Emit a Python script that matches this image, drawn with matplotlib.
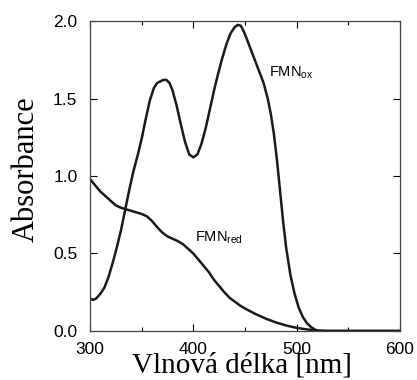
import matplotlib
matplotlib.use("Agg")
import matplotlib.pyplot as plt
from matplotlib.ticker import MultipleLocator, FormatStrFormatter

# FMN oxidized spectrum (wavelength nm, absorbance)
ox_wl = [300, 303, 306, 310, 314, 318, 322, 326, 330, 334, 338, 342, 346, 350,
         354, 358, 362, 365, 368, 371, 374, 377, 380, 384, 388, 392, 396, 400,
         404, 408, 412, 416, 420, 424, 428, 432, 436, 440, 443, 446, 449, 452,
         456, 460, 464, 468, 472, 475, 478, 481, 484, 487, 490, 494, 498, 502,
         506, 510, 514, 518, 521, 530, 560, 600]
ox_abs = [0.21, 0.20, 0.21, 0.24, 0.28, 0.35, 0.44, 0.54, 0.65, 0.78, 0.91, 1.03, 1.13, 1.24,
          1.37, 1.49, 1.57, 1.60, 1.61, 1.62, 1.62, 1.60, 1.55, 1.45, 1.33, 1.22, 1.14, 1.12,
          1.14, 1.21, 1.31, 1.43, 1.55, 1.66, 1.76, 1.85, 1.92, 1.96, 1.975, 1.97, 1.93, 1.88,
          1.81, 1.74, 1.67, 1.60, 1.50, 1.40, 1.27, 1.10, 0.90, 0.70, 0.53, 0.36, 0.24, 0.15,
          0.09, 0.05, 0.025, 0.008, 0.0, 0.0, 0.0, 0.0]

# FMN reduced spectrum
red_wl = [300, 305, 310, 315, 320, 325, 330, 335, 340, 345, 350, 355, 360, 365, 370,
          375, 380, 385, 390, 395, 400, 405, 410, 415, 420, 425, 430, 435, 440, 445,
          450, 460, 470, 480, 490, 500, 510, 520, 530, 560, 600]
red_abs = [0.98, 0.94, 0.90, 0.87, 0.84, 0.81, 0.795, 0.785, 0.775, 0.765, 0.755, 0.74, 0.71, 0.67, 0.635,
           0.61, 0.595, 0.58, 0.56, 0.53, 0.50, 0.46, 0.42, 0.38, 0.33, 0.29, 0.25, 0.215, 0.19, 0.165,
           0.145, 0.11, 0.08, 0.055, 0.035, 0.02, 0.01, 0.003, 0.0, 0.0, 0.0]

fig = plt.figure(figsize=(4.17, 3.80), dpi=100)
ax = fig.add_axes([0.2158, 0.129, 0.7434, 0.8157])

ax.plot(ox_wl, ox_abs, color="#1a1a1a", lw=1.8, solid_joinstyle="round")
ax.plot(red_wl, red_abs, color="#1a1a1a", lw=1.8, solid_joinstyle="round")

ax.set_xlim(300, 600)
ax.set_ylim(0, 2.0)
ax.xaxis.set_major_locator(MultipleLocator(100))
ax.xaxis.set_minor_locator(MultipleLocator(50))
ax.yaxis.set_major_locator(MultipleLocator(0.5))
ax.yaxis.set_major_formatter(FormatStrFormatter("%.1f"))

ax.tick_params(which="both", direction="in", top=True, right=True)
ax.tick_params(axis="x", which="major", length=5, width=0.8, pad=8)
ax.tick_params(axis="y", which="major", length=5, width=0.8, pad=9)
ax.tick_params(which="minor", length=3, width=0.8)
for lab in ax.get_xticklabels() + ax.get_yticklabels():
    lab.set_fontfamily("Liberation Sans")
    lab.set_fontsize(12.5)
for s in ax.spines.values():
    s.set_color("#444444")
    s.set_linewidth(0.9)

ax.set_xlabel("Vlnová délka [nm]", family="Liberation Serif", fontsize=21)
ax.xaxis.set_label_coords(0.49, -0.07)
ax.set_ylabel("Absorbance", family="Liberation Serif", fontsize=22)
ax.yaxis.set_label_coords(-0.16, 0.522)

ax.text(473, 1.67, r"FMN$_{\mathregular{ox}}$", family="Liberation Sans", fontsize=10.5, va="center")
ax.text(401.5, 0.6, r"FMN$_{\mathregular{red}}$", family="Liberation Sans", fontsize=10.5, va="center")

fig.savefig("out.png", dpi=100)
